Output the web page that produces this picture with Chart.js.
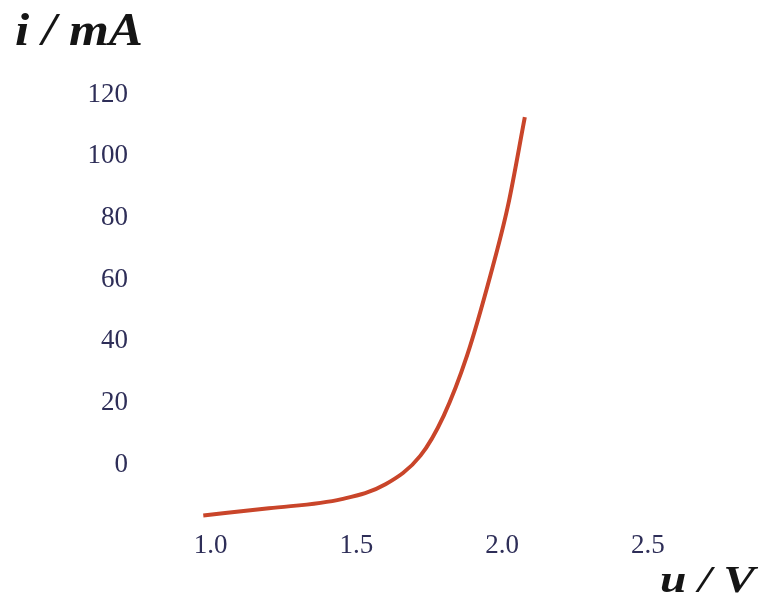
<!DOCTYPE html>
<html>
<head>
<meta charset="utf-8">
<script src="https://cdn.jsdelivr.net/npm/chart.js@4/dist/chart.umd.min.js"></script>
<style>
  html, body { margin: 0; padding: 0; background: #fff; }
  canvas { display: block; }
</style>
</head>
<body>
<canvas id="ivChart" width="765" height="603"></canvas>
<script>
// diode I-V characteristic
const voltage = [0.975, 1.2, 1.45, 1.6, 1.72, 1.8, 1.88, 1.96, 2.02, 2.078];
const current = [-14.9, -12.6, -9.6, -4.8, 4.5, 17.5, 37, 63, 85.5, 114.3];

const xTicks = [1.0, 1.5, 2.0, 2.5];
const yTicks = [0, 20, 40, 60, 80, 100, 120];

const yTitle = 'i / mA';
const xTitle = 'u / V';

const tickColor = '#2e2e58';
const curveColor = '#c9452a';

// axis names in the corners, bold italic serif
const axisTitles = {
    id: 'axisTitles',
    afterDraw(chart) {
        const ctx = chart.ctx;
        const drawText = (text, size, left, baseline, width) => {
            ctx.save();
            ctx.font = 'italic bold ' + size + 'px "Liberation Serif", serif';
            ctx.fillStyle = '#151515';
            ctx.textBaseline = 'alphabetic';
            ctx.textAlign = 'left';
            const w = ctx.measureText(text).width;
            ctx.translate(left, baseline);
            ctx.scale(width / w, 1);
            ctx.fillText(text, 0, 0);
            ctx.restore();
        };
        drawText(yTitle, 46, 15, 45, 128);
        drawText(xTitle, 37, 660, 592, 95);
    }
};

const points = voltage.map((v, i) => ({ x: v, y: current[i] }));

const config = {
    type: 'line',
    data: {
        datasets: [{
            data: points,
            borderColor: curveColor,
            borderWidth: 4,
            pointRadius: 0,
            fill: false,
            cubicInterpolationMode: 'monotone'
        }]
    },
    options: {
        responsive: false,
        animation: false,
        layout: {
            padding: { left: 0, top: 79, right: 88, bottom: 0 }
        },
        plugins: {
            legend: { display: false },
            tooltip: { enabled: false }
        },
        scales: {
            x: {
                type: 'linear',
                min: 0.95,
                max: 2.6,
                afterBuildTicks(scale) {
                    scale.ticks = xTicks.map(v => ({ value: v }));
                },
                afterFit(scale) {
                    scale.height = 80;
                },
                ticks: {
                    padding: 11,
                    color: tickColor,
                    font: { family: '"Liberation Serif", serif', size: 27 },
                    callback: v => v.toFixed(1)
                },
                grid: { display: false, drawTicks: false },
                border: { display: false }
            },
            y: {
                type: 'linear',
                min: -16,
                max: 125,
                afterBuildTicks(scale) {
                    scale.ticks = yTicks.map(v => ({ value: v }));
                },
                afterFit(scale) {
                    scale.width = 196;
                },
                ticks: {
                    padding: 68,
                    labelOffset: -5,
                    color: tickColor,
                    font: { family: '"Liberation Serif", serif', size: 27 }
                },
                grid: { display: false, drawTicks: false },
                border: { display: false }
            }
        }
    },
    plugins: [axisTitles]
};

new Chart(document.getElementById('ivChart'), config);
</script>
</body>
</html>
